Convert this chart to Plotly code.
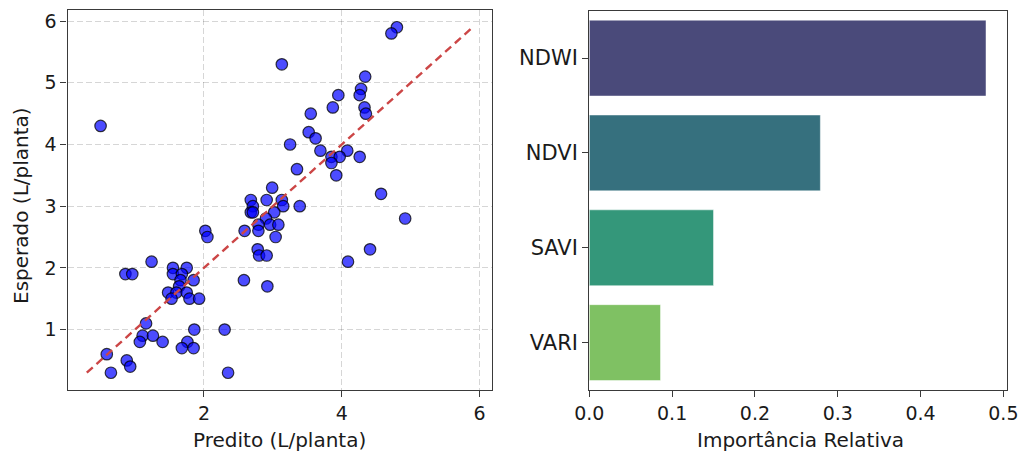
import plotly.graph_objects as go

# ---- scatter data (Predito vs Esperado) ----
predito = [4.80, 4.72, 3.13, 4.34, 4.28, 4.26, 3.95, 3.87, 4.33, 4.35,
           3.55, 0.50, 3.52, 3.62, 3.25, 3.69, 4.08, 3.85, 3.97, 4.26,
           3.85, 3.92, 3.35, 4.57, 2.99,
           2.68, 2.91, 3.13, 2.71, 3.15, 3.39, 2.68, 2.71, 3.02, 2.90,
           2.96, 3.08, 2.79, 2.59, 2.79, 3.04, 2.78, 2.80, 2.91, 2.02,
           2.05, 4.09, 4.41, 4.92, 2.58, 2.92,
           1.24, 0.86, 0.96, 1.55, 1.75, 1.55, 1.68, 1.66, 1.85, 1.64,
           1.48, 1.60, 1.75, 1.53, 1.79, 1.93,
           1.16, 1.86, 2.30, 1.11, 1.26, 1.07, 1.40, 1.76, 1.68, 1.85,
           0.59, 0.88, 0.93, 0.65, 2.35]
esperado = [5.9, 5.8, 5.3, 5.1, 4.9, 4.8, 4.8, 4.6, 4.6, 4.5,
            4.5, 4.3, 4.2, 4.1, 4.0, 3.9, 3.9, 3.8, 3.8, 3.8,
            3.7, 3.5, 3.6, 3.2, 3.3,
            3.1, 3.1, 3.1, 3.0, 3.0, 3.0, 2.9, 2.9, 2.9, 2.8,
            2.7, 2.7, 2.7, 2.6, 2.6, 2.5, 2.3, 2.2, 2.2, 2.6,
            2.5, 2.1, 2.3, 2.8, 1.8, 1.7,
            2.1, 1.9, 1.9, 2.0, 2.0, 1.9, 1.9, 1.8, 1.8, 1.7,
            1.6, 1.6, 1.6, 1.5, 1.5, 1.5,
            1.1, 1.0, 1.0, 0.9, 0.9, 0.8, 0.8, 0.8, 0.7, 0.7,
            0.6, 0.5, 0.4, 0.3, 0.3]

# ---- feature importance ----
indices = ["NDWI", "NDVI", "SAVI", "VARI"]
importancia = [0.479, 0.279, 0.150, 0.086]
bar_colors = ["#4a4a7a", "#36707e", "#34977a", "#7fc163"]

# the page body adds an 8px margin; work in screenshot pixels and subtract it
OFF = 8
W, H = 1024, 448
def px_x(p): return (p - OFF) / W
def px_y(p): return 1 - (p - OFF) / H

fig = go.Figure()

fig.add_trace(go.Scatter(
    x=predito, y=esperado, mode="markers",
    marker=dict(size=11.5, color="rgba(0,0,255,0.7)",
                line=dict(color="rgba(0,0,0,0.75)", width=1.2)),
    xaxis="x", yaxis="y", showlegend=False))

lo, hi = min(esperado), max(esperado)
fig.add_trace(go.Scatter(
    x=[lo, hi], y=[lo, hi], mode="lines",
    line=dict(color="#cc4646", width=2.4, dash="8px,5px"),
    xaxis="x", yaxis="y", showlegend=False))

fig.add_trace(go.Bar(
    x=importancia, y=indices, orientation="h", width=0.8,
    marker=dict(color=bar_colors, line=dict(color="rgba(255,255,255,0.6)", width=0.8)),
    xaxis="x2", yaxis="y2", showlegend=False))

tickfont = dict(family="DejaVu Sans", size=19, color="#1a1a1a")
frame = dict(showline=True, linecolor="#3a3a3a", linewidth=1.3, mirror=True,
             ticks="outside", ticklen=6, tickwidth=1.2, tickcolor="#3a3a3a",
             zeroline=False, tickfont=tickfont, automargin=False)
grid = dict(showgrid=True, gridcolor="rgba(0,0,0,0.16)", gridwidth=1, griddash="6px,3px")

fig.update_layout(
    width=W, height=H,
    margin=dict(l=0, r=0, t=0, b=0, pad=0),
    paper_bgcolor="white", plot_bgcolor="white",
    font=dict(family="DejaVu Sans", color="#1a1a1a"),
    xaxis=dict(domain=[px_x(67.5), px_x(492)], range=[0.02, 6.18],
               dtick=2, tick0=0, **frame, **grid),
    yaxis=dict(domain=[px_y(390), px_y(10)], range=[0.02, 6.18],
               dtick=1, tick0=0, **frame, **grid),
    xaxis2=dict(domain=[px_x(589.3), px_x(1006.7)], range=[0, 0.504],
                dtick=0.1, tick0=0, tickformat=".1f", showgrid=False,
                anchor="y2", **frame),
    yaxis2=dict(domain=[px_y(390), px_y(10.7)], range=[3.5, -0.5],
                type="category", categoryorder="array", categoryarray=indices,
                showgrid=False, anchor="x2",
                **{**frame, "tickfont": dict(family="DejaVu Sans", size=21, color="#1a1a1a")}),
    bargap=0.2,
)

afont = dict(family="DejaVu Sans", size=20, color="#1a1a1a")
fig.add_annotation(text="Predito (L/planta)", x=px_x(279.7), y=px_y(440),
                   xref="paper", yref="paper", showarrow=False, font=afont,
                   xanchor="center", yanchor="middle")
fig.add_annotation(text="Importância Relativa", x=px_x(800), y=px_y(440),
                   xref="paper", yref="paper", showarrow=False, font=afont,
                   xanchor="center", yanchor="middle")
fig.add_annotation(text="Esperado (L/planta)", x=px_x(21), y=px_y(206),
                   xref="paper", yref="paper", showarrow=False, font=afont,
                   textangle=-90, xanchor="center", yanchor="middle")

fig.write_html("out.html")
